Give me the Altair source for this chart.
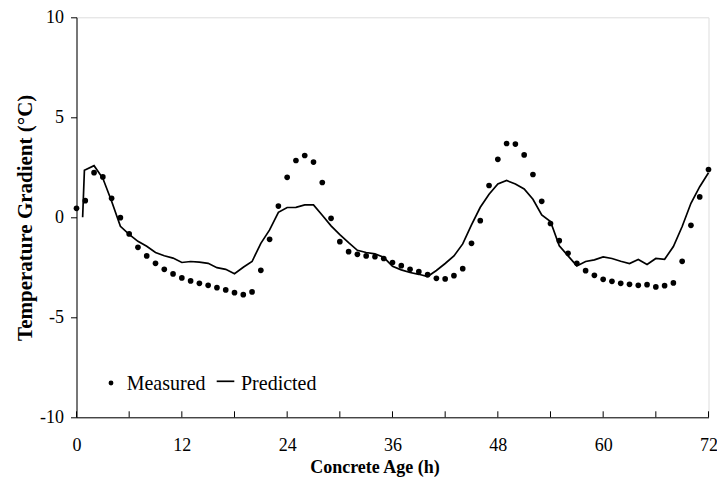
import altair as alt
import pandas as pd

# ---- data ----
measured_hours = list(range(0, 73))
measured_values = [
    0.45, 0.83, 2.23, 2.02, 0.95, -0.02, -0.83, -1.50, -1.93, -2.30,
    -2.60, -2.83, -3.03, -3.18, -3.30, -3.40, -3.52, -3.63, -3.77, -3.87,
    -3.73, -2.65, -1.10, 0.56, 2.00, 2.84, 3.09, 2.76, 1.74, -0.05,
    -1.22, -1.72, -1.85, -1.93, -1.97, -2.06, -2.26, -2.42, -2.60, -2.72,
    -2.87, -3.05, -3.08, -2.92, -2.57, -1.30, -0.17, 1.59, 2.90, 3.69,
    3.66, 3.12, 2.14, 0.80, -0.31, -1.17, -1.80, -2.30, -2.67, -2.90,
    -3.10, -3.20, -3.30, -3.35, -3.40, -3.37, -3.48, -3.42, -3.28, -2.20,
    -0.40, 1.02, 2.39,
]

predicted_hours = [0.7, 0.9] + list(range(2, 73))
predicted_values = [
    0.00, 2.35,
    2.58, 1.95, 0.80, -0.45, -0.85, -1.20, -1.45, -1.76,
    -1.92, -2.04, -2.26, -2.21, -2.24, -2.30, -2.52, -2.60, -2.82, -2.50,
    -2.21, -1.30, -0.63, 0.25, 0.49, 0.50, 0.62, 0.62, 0.10, -0.43,
    -0.87, -1.27, -1.65, -1.76, -1.83, -2.00, -2.45, -2.63, -2.76, -2.85,
    -2.96, -2.66, -2.31, -1.93, -1.33, -0.38, 0.50, 1.15, 1.67, 1.84,
    1.67, 1.42, 0.90, 0.12, -0.21, -1.43, -1.93, -2.43, -2.21, -2.13,
    -1.98, -2.06, -2.20, -2.31, -2.11, -2.36, -2.06, -2.10, -1.46, -0.46,
    0.70, 1.53, 2.23,
]

x_label_values = [0, 12, 24, 36, 48, 60, 72]
x_tick_values = [0, 6, 12, 18, 24, 30, 36, 42, 48, 54, 60, 66, 72]
y_tick_values = [-10, -5, 0, 5, 10]
legend_labels = ["Measured", "Predicted"]

# ---- tables ----
df_meas = pd.DataFrame({"hour": measured_hours, "value": measured_values})
df_pred = pd.DataFrame({"hour": predicted_hours, "value": predicted_values})
df_ticks = pd.DataFrame({"hour": x_tick_values})

W, H = 632, 400
FONT = "Liberation Serif"

xscale = alt.Scale(domain=[0, 72], nice=False, zero=False)
yscale = alt.Scale(domain=[-10, 10], nice=False, zero=False)

x_axis = alt.Axis(
    title="Concrete Age (h)", values=x_label_values, ticks=False,
    labelFlush=False, labelOverlap=False, grid=False,
    labelPadding=19, labelExpr="'' + datum.value",
    titleX=298, titleY=55.5, titleBaseline="alphabetic", titleAlign="center",
    labelFont=FONT, labelFontSize=18, labelColor="black",
    titleFont=FONT, titleFontSize=18, titleFontWeight="bold", titleColor="black",
    domainColor="black", domainWidth=1,
)
y_axis = alt.Axis(
    title="Temperature Gradient (\u00b0C)", values=y_tick_values, tickSize=6,
    tickColor="black", grid=False, labelPadding=7, titlePadding=4,
    labelExpr="'' + datum.value",
    labelFont=FONT, labelFontSize=18, labelColor="black",
    titleFont=FONT, titleFontSize=21, titleFontWeight="bold", titleColor="black",
    domainColor="black", domainWidth=1,
)

points = alt.Chart(df_meas).mark_point(
    filled=True, color="black", size=32, opacity=1, shape="circle"
).encode(
    x=alt.X("hour:Q", scale=xscale, axis=x_axis),
    y=alt.Y("value:Q", scale=yscale, axis=y_axis),
)

line = alt.Chart(df_pred).mark_line(color="black", strokeWidth=1.7).encode(
    x=alt.X("hour:Q", scale=xscale),
    y=alt.Y("value:Q", scale=yscale),
)

inner_ticks = alt.Chart(df_ticks).mark_rule(color="black", strokeWidth=1).encode(
    x=alt.X("hour:Q", scale=xscale),
    y=alt.value(H),
    y2=alt.value(H - 6),
)

# ---- legend (drawn inside the plot, bottom left) ----
leg_dot = alt.Chart(pd.DataFrame({"label": [legend_labels[0]]})).mark_point(
    filled=True, color="black", size=24, opacity=1, shape="circle"
).encode(x=alt.value(34.5), y=alt.value(365.7))

leg_line = alt.Chart(pd.DataFrame({"label": [legend_labels[1]]})).mark_rule(
    color="black", strokeWidth=1.7
).encode(x=alt.value(140.2), x2=alt.value(157.8), y=alt.value(364))

leg_text1 = alt.Chart(pd.DataFrame({"label": [legend_labels[0]]})).mark_text(
    font=FONT, fontSize=20, align="left", baseline="alphabetic", color="black"
).encode(x=alt.value(50.2), y=alt.value(372.5), text="label:N")

leg_text2 = alt.Chart(pd.DataFrame({"label": [legend_labels[1]]})).mark_text(
    font=FONT, fontSize=20, align="left", baseline="alphabetic", color="black"
).encode(x=alt.value(164.5), y=alt.value(372.5), text="label:N")

chart = alt.layer(
    inner_ticks, line, points, leg_dot, leg_line, leg_text1, leg_text2
).properties(
    width=W, height=H,
    autosize=alt.AutoSizeParams(type="none"),
    padding={"left": 68.5, "top": 9.3, "right": 8.5, "bottom": 59.5},
).configure_view(stroke=None).configure(background="white")

chart.save("out.html", embed_options={"renderer": "svg", "actions": False})
